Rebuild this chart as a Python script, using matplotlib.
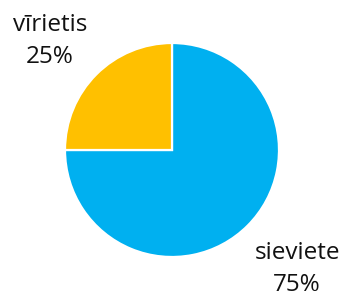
import matplotlib
matplotlib.use('Agg')
import matplotlib.pyplot as plt

# Gender split, shown as share of respondents
labels = ['sieviete', 'vīrietis']
values = [75, 25]
colors = ['#00B0F0', '#FFC000']

plt.rcParams['font.family'] = ['Open Sans', 'DejaVu Sans']

fig = plt.figure(figsize=(3.41, 2.93), dpi=100)
ax = fig.add_axes([0, 0, 1, 1])

texts = ['%s\n%d%%' % (l, v) for l, v in zip(labels, values)]
wedges, lbls = ax.pie(values, colors=colors, labels=texts, startangle=90,
                      counterclock=False, center=(172, 143), radius=107,
                      labeldistance=1.55, frame=True,
                      wedgeprops={'edgecolor': 'white', 'linewidth': 1.6},
                      textprops={'fontsize': 17.5, 'color': '#111111',
                                 'linespacing': 1.42})
# nudge labels to where the original puts them
label_pos = [(297, 24), (50, 252)]
for t, p in zip(lbls, label_pos):
    t.set_position(p)
    t.set_ha('center')
    t.set_va('center')

ax.set_xlim(0, 341)
ax.set_ylim(0, 293)
ax.set_aspect('equal')
ax.axis('off')

plt.savefig('out.png', dpi=100)
plt.close('all')
